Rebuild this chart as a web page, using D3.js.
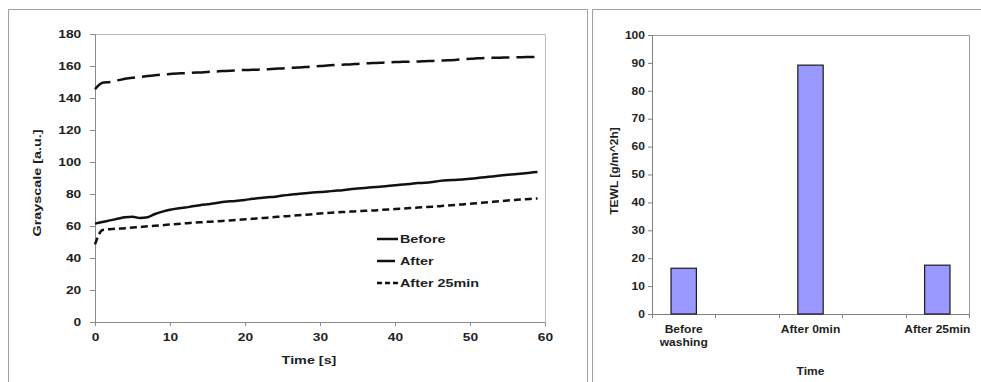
<!DOCTYPE html>
<html>
<head>
<meta charset="utf-8">
<script src="https://cdn.jsdelivr.net/npm/d3@7"></script>
<style>
  body { margin: 0; background: #fff; }
  svg { display: block; font-family: "Liberation Sans", Arial, sans-serif; font-weight: bold; }
</style>
</head>
<body>
<div id="chart"></div>
<script>
// ---- data: left chart (grayscale vs time) ----
const times = [0, 1, 2, 3, 4, 5, 6, 7, 8, 9, 10, 11, 12, 13, 14, 15, 16, 17, 18, 19,
  20, 21, 22, 23, 24, 25, 26, 27, 28, 29, 30, 31, 32, 33, 34, 35, 36, 37, 38, 39,
  40, 41, 42, 43, 44, 45, 46, 47, 48, 49, 50, 51, 52, 53, 54, 55, 56, 57, 58, 59];
const before = [61.5, 62.5, 63.5, 64.5, 65.5, 65.8, 65, 65.5, 67.5, 69, 70.2, 71, 71.5, 72.3, 73, 73.6, 74.2, 75, 75.4, 75.8,
  76.3, 77, 77.5, 78, 78.3, 79, 79.6, 80, 80.5, 81, 81.2, 81.6, 82, 82.4, 83, 83.4, 83.8, 84.2, 84.6, 85,
  85.5, 86, 86.3, 86.8, 87, 87.5, 88.2, 88.6, 88.8, 89, 89.5, 90, 90.5, 91, 91.5, 92, 92.3, 92.8, 93.3, 93.7];
const after = [145.5, 149.5, 150, 151, 152, 152.7, 153.2, 153.7, 154.2, 154.7, 155, 155.3, 155.5, 155.8, 156, 156.3, 156.5, 156.8, 157, 157.3,
  157.5, 157.6, 157.8, 158, 158.3, 158.5, 158.8, 159, 159.3, 159.6, 160, 160.3, 160.6, 160.8, 161, 161.3, 161.6, 161.8, 162, 162.2,
  162.5, 162.6, 162.7, 162.8, 163, 163.2, 163.4, 163.6, 163.8, 164.2, 164.5, 164.8, 165, 165.1, 165.2, 165.3, 165.4, 165.5, 165.6, 165.7];
const after25 = [48.5, 57.5, 58, 58.3, 58.6, 59, 59.4, 59.8, 60.1, 60.5, 60.9, 61.3, 61.7, 62, 62.3, 62.6, 62.9, 63.2, 63.5, 63.8,
  64.2, 64.5, 64.9, 65.2, 65.6, 66, 66.3, 66.7, 67, 67.4, 67.8, 68.1, 68.4, 68.7, 69, 69.2, 69.5, 69.7, 70, 70.3,
  70.6, 70.9, 71.2, 71.5, 71.8, 72.1, 72.4, 72.8, 73.1, 73.5, 73.9, 74.3, 74.7, 75.1, 75.5, 75.9, 76.3, 76.6, 76.9, 77.2];
const seriesNames = ["Before", "After", "After 25min"];
const xTicksLeft = [0, 10, 20, 30, 40, 50, 60];
const yTicksLeft = [0, 20, 40, 60, 80, 100, 120, 140, 160, 180];

// ---- data: right chart (TEWL bars) ----
const barSlots = [0, 1, 2, 3, 4];
const barLabels = [["Before", "washing"], [], ["After 0min"], [], ["After 25min"]];
const barValues = [16.4, null, 89.2, null, 17.5];
const yTicksRight = [0, 10, 20, 30, 40, 50, 60, 70, 80, 90, 100];

const W = 981, H = 382;
const textColor = "#1e1e1e";

const svg = d3.select("#chart").append("svg")
  .attr("width", W)
  .attr("height", H);

// panel frames
svg.append("path")
  .attr("d", "M8.5,383 V9.5 H587.5 V383")
  .attr("fill", "none").attr("stroke", "#a0a0a0");
svg.append("path")
  .attr("d", "M592.5,383 V9.5 H982")
  .attr("fill", "none").attr("stroke", "#a0a0a0");

// ================= left chart =================
const L = { left: 95, top: 34, right: 545, bottom: 322 };
const x1 = d3.scaleLinear().domain([0, 60]).range([L.left, L.right]);
const y1 = d3.scaleLinear().domain([0, 180]).range([L.bottom, L.top]);

const g1 = svg.append("g");

// plot border (top/right)
g1.append("path")
  .attr("d", `M${L.left},${L.top + 0.5} H${L.right + 0.5} V${L.bottom}`)
  .attr("fill", "none").attr("stroke", "#bdbdbd");

const yAx1 = g1.append("g")
  .attr("transform", `translate(${L.left},0)`)
  .call(d3.axisLeft(y1).tickValues(yTicksLeft).tickSize(5).tickPadding(6));
const xAx1 = g1.append("g")
  .attr("transform", `translate(0,${L.bottom})`)
  .call(d3.axisBottom(x1).tickValues(xTicksLeft).tickSize(4).tickPadding(7));

[yAx1, xAx1].forEach(a => {
  a.select(".domain").attr("stroke", "#8a8a8a");
  a.selectAll(".tick line").attr("stroke", "#8a8a8a");
  a.selectAll("text")
    .attr("fill", textColor)
    .style("font-size", "11px")
    .attr("transform", "scale(1.25,1)");
});
xAx1.selectAll(".tick").filter(d => d === 60).select("line").remove();

const line1 = d3.line()
  .x(d => x1(d[0]))
  .y(d => y1(d[1]))
  .curve(d3.curveMonotoneX);

const dashes = { "Before": null, "After": "18,7", "After 25min": "7,4" };
const legendDashes = { "Before": null, "After": "18,7", "After 25min": "5,3" };
const seriesData = {
  "Before": times.map((t, i) => [t, before[i]]),
  "After": times.map((t, i) => [t, after[i]]),
  "After 25min": times.map((t, i) => [t, after25[i]])
};

g1.selectAll(".series")
  .data(seriesNames)
  .join("path")
  .attr("class", "series")
  .attr("fill", "none")
  .attr("stroke", "#111")
  .attr("stroke-width", 2.5)
  .attr("stroke-dasharray", d => dashes[d])
  .attr("d", d => line1(seriesData[d]));

// legend
const legend = g1.selectAll(".legend")
  .data(seriesNames)
  .join("g")
  .attr("class", "legend")
  .attr("transform", (d, i) => `translate(377,${239 + i * 22})`);

legend.append("line")
  .attr("x1", 0).attr("x2", d => d === "After" ? 18 : 21)
  .attr("stroke", "#111")
  .attr("stroke-width", 2.5)
  .attr("stroke-dasharray", d => legendDashes[d]);

legend.append("text")
  .attr("x", 23 / 1.25)
  .attr("dy", "0.36em")
  .attr("transform", "scale(1.25,1)")
  .attr("fill", textColor)
  .style("font-size", "11.5px")
  .text(d => d);

// axis titles
g1.append("text")
  .attr("transform", "translate(41,183) rotate(-90) scale(1.25,1)")
  .attr("text-anchor", "middle")
  .attr("fill", textColor)
  .style("font-size", "11.5px")
  .text("Grayscale [a.u.]");
g1.append("text")
  .attr("transform", "translate(309,364) scale(1.25,1)")
  .attr("text-anchor", "middle")
  .attr("fill", textColor)
  .style("font-size", "11.5px")
  .text("Time [s]");

// ================= right chart =================
const R = { left: 652, top: 35, right: 969, bottom: 314 };
const x2 = d3.scaleBand().domain(barSlots).range([R.left, R.right]).paddingInner(0).paddingOuter(0);
const y2 = d3.scaleLinear().domain([0, 100]).range([R.bottom, R.top]);

const g2 = svg.append("g");

g2.append("path")
  .attr("d", `M${R.left},${R.top + 0.5} H${R.right + 0.5} V${R.bottom}`)
  .attr("fill", "none").attr("stroke", "#9a9a9a");

const yAx2 = g2.append("g")
  .attr("transform", `translate(${R.left},0)`)
  .call(d3.axisLeft(y2).tickValues(yTicksRight).tickSize(4).tickPadding(2));
yAx2.select(".domain").attr("stroke", "#808080");
yAx2.selectAll(".tick line").attr("stroke", "#808080");
yAx2.selectAll("text")
  .attr("fill", textColor)
  .style("font-size", "10.2px")
  .attr("transform", "scale(1.18,1)");

// x axis line and ticks at band edges
g2.append("line")
  .attr("x1", R.left).attr("x2", R.right)
  .attr("y1", R.bottom + 0.5).attr("y2", R.bottom + 0.5)
  .attr("stroke", "#808080");
const edges = barSlots.map(d => x2(d)).concat([x2.range()[1]]);
g2.selectAll(".xtick")
  .data(edges)
  .join("line")
  .attr("class", "xtick")
  .attr("x1", d => Math.round(d) + 0.5).attr("x2", d => Math.round(d) + 0.5)
  .attr("y1", R.bottom).attr("y2", R.bottom + 4)
  .attr("stroke", "#808080");

// bars
const barW = x2.bandwidth() * 0.4;
g2.selectAll(".bar")
  .data(barSlots.filter(i => barValues[i] != null))
  .join("rect")
  .attr("class", "bar")
  .attr("x", i => x2(i) + (x2.bandwidth() - barW) / 2)
  .attr("y", i => y2(barValues[i]))
  .attr("width", barW)
  .attr("height", i => y2(0) - y2(barValues[i]))
  .attr("fill", "#9999ff")
  .attr("stroke", "#1a1a1a")
  .attr("stroke-width", 1.2);

// category labels
const catLabels = g2.selectAll(".cat")
  .data(barSlots.filter(i => barLabels[i].length))
  .join("text")
  .attr("class", "cat")
  .attr("transform", i => `translate(${x2(i) + x2.bandwidth() / 2},333) scale(1.18,1)`)
  .attr("text-anchor", "middle")
  .attr("fill", textColor)
  .style("font-size", "10.2px");
catLabels.selectAll("tspan")
  .data(i => barLabels[i])
  .join("tspan")
  .attr("x", 0)
  .attr("dy", (d, j) => j === 0 ? 0 : 13.5)
  .text(d => d);

g2.append("text")
  .attr("transform", "translate(617.5,171) rotate(-90) scale(1.18,1)")
  .attr("text-anchor", "middle")
  .attr("fill", textColor)
  .style("font-size", "10.2px")
  .text("TEWL [g/m^2h]");
g2.append("text")
  .attr("transform", `translate(${(R.left + R.right) / 2},375) scale(1.18,1)`)
  .attr("text-anchor", "middle")
  .attr("fill", textColor)
  .style("font-size", "10.2px")
  .text("Time");
</script>
</body>
</html>
